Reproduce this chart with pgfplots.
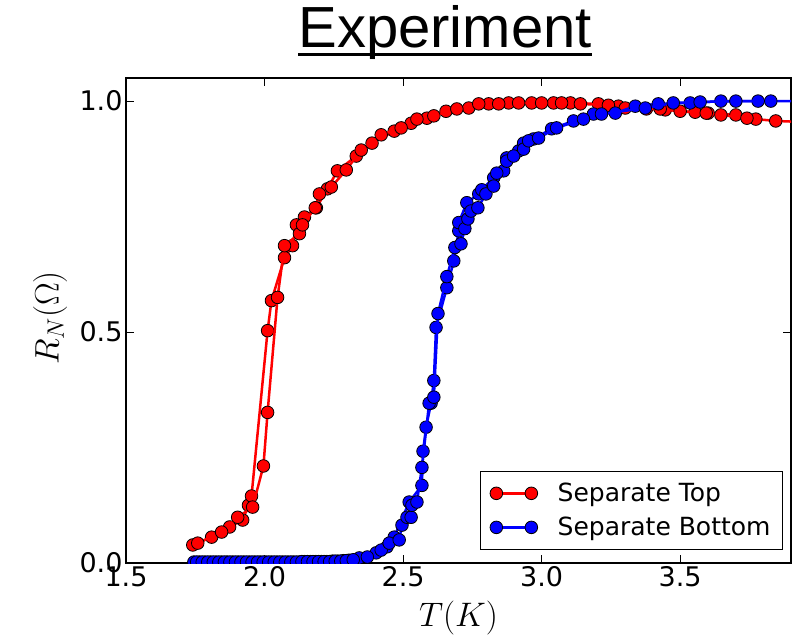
\RequirePackage{fix-cm}
\documentclass[border=0pt]{standalone}
\usepackage{fontspec}
\setmainfont{DejaVu Sans}
\newfontfamily\arialfont{Liberation Sans}
\usepackage{pgfplots}
\pgfplotsset{compat=1.18}

\pgfplotstableread{
x y
1.741 0.039
1.809 0.056
1.874 0.078
1.921 0.093
1.942 0.125
1.953 0.145
2.011 0.503
2.025 0.568
2.072 0.661
2.101 0.687
2.115 0.732
2.144 0.749
2.187 0.769
2.227 0.810
2.263 0.849
2.331 0.881
2.388 0.909
2.468 0.935
2.529 0.952
2.586 0.963
2.655 0.978
2.737 0.985
2.809 0.994
2.881 0.996
2.964 0.996
3.043 0.996
3.104 0.996
3.205 0.994
3.277 0.989
3.378 0.983
3.446 0.981
3.554 0.976
3.601 0.974
3.701 0.970
3.773 0.961
3.845 0.957
3.930 0.955
}\redA

\pgfplotstableread{
x y
1.759 0.043
1.845 0.067
1.903 0.099
1.957 0.121
1.996 0.210
2.011 0.326
2.047 0.575
2.072 0.687
2.126 0.713
2.137 0.732
2.183 0.769
2.198 0.799
2.241 0.814
2.295 0.851
2.349 0.894
2.421 0.927
2.493 0.942
2.550 0.961
2.611 0.968
2.694 0.983
2.773 0.994
2.845 0.994
2.917 0.996
3.000 0.996
3.072 0.996
3.140 0.994
3.241 0.991
3.302 0.985
3.428 0.983
3.500 0.978
3.594 0.974
3.647 0.970
3.741 0.963
}\redB

\pgfplotstableread{
x y
1.745 0.002
1.765 0.002
1.785 0.002
1.805 0.002
1.825 0.002
1.845 0.002
1.865 0.002
1.885 0.002
1.905 0.002
1.925 0.002
1.945 0.002
1.965 0.002
1.985 0.002
2.005 0.002
2.025 0.002
2.045 0.002
2.065 0.002
2.085 0.002
2.105 0.002
2.125 0.002
2.145 0.003
2.165 0.003
2.185 0.003
2.205 0.003
2.225 0.003
2.245 0.004
2.265 0.004
2.285 0.005
2.305 0.006
2.342 0.011
2.403 0.022
2.442 0.035
2.468 0.056
2.522 0.132
2.568 0.168
2.572 0.242
2.583 0.294
2.601 0.346
2.611 0.395
2.619 0.510
2.658 0.596
2.683 0.654
2.701 0.719
2.701 0.737
2.730 0.780
2.773 0.799
2.784 0.808
2.827 0.834
2.863 0.849
2.874 0.877
2.917 0.892
2.935 0.909
2.971 0.918
3.036 0.940
3.115 0.957
3.187 0.972
3.266 0.974
3.338 0.989
3.421 0.994
3.536 0.996
3.647 1.000
3.781 1.000
3.930 1.000
}\blueA

\pgfplotstableread{
x y
1.755 0.002
1.775 0.002
1.795 0.002
1.815 0.002
1.835 0.002
1.855 0.002
1.875 0.002
1.895 0.002
1.915 0.002
1.935 0.002
1.955 0.002
1.975 0.002
1.995 0.002
2.015 0.002
2.035 0.002
2.055 0.002
2.075 0.002
2.095 0.002
2.115 0.002
2.135 0.003
2.155 0.003
2.175 0.003
2.195 0.003
2.215 0.003
2.235 0.003
2.255 0.004
2.275 0.004
2.295 0.005
2.320 0.007
2.371 0.013
2.421 0.028
2.450 0.043
2.486 0.050
2.496 0.082
2.514 0.099
2.529 0.099
2.532 0.125
2.550 0.132
2.568 0.207
2.594 0.346
2.611 0.359
2.626 0.540
2.658 0.620
2.687 0.683
2.709 0.691
2.723 0.724
2.734 0.745
2.745 0.762
2.770 0.769
2.799 0.799
2.827 0.816
2.838 0.844
2.874 0.870
2.899 0.881
2.935 0.896
2.953 0.914
2.989 0.920
3.054 0.942
3.151 0.961
3.216 0.972
3.374 0.985
3.475 0.996
3.572 0.998
3.701 1.000
3.827 1.000
}\blueB

\begin{document}
\begin{tikzpicture}
\begin{axis}[
  at={(0pt,0pt)}, anchor=south west,
  scale only axis, width=665pt, height=485pt,
  xmin=1.5, xmax=3.9, ymin=0, ymax=1.05,
  xtick={1.5,2.0,2.5,3.0,3.5}, ytick={0,0.5,1.0},
  /pgf/number format/assume math mode=true,
  xticklabel style={/pgf/number format/fixed,/pgf/number format/fixed zerofill,/pgf/number format/precision=1},
  yticklabel style={/pgf/number format/fixed,/pgf/number format/fixed zerofill,/pgf/number format/precision=1},
  tick label style={font=\fontsize{27}{30}\selectfont},
  axis line style={line width=1.2pt},
  major tick length=8pt,
  every tick/.style={black, line width=1pt},
  xlabel={$T(K)$}, ylabel={$R_N(\Omega)$},
  label style={font=\fontsize{34}{38}\selectfont},
  xlabel style={at={(axis description cs:0.5,-0.113)}, anchor=center},
  ylabel style={at={(axis description cs:-0.114,0.505)}, anchor=center},
  clip marker paths=true,
  legend style={at={(rel axis cs:0.988,0.027)}, anchor=south east, draw=black, line width=1pt,
    font=\fontsize{25}{28}\selectfont, inner xsep=10pt, inner ysep=10pt, row sep=10pt, column sep=18pt},
  legend cell align=left,
  legend image code/.code={\draw[#1] plot coordinates {(0pt,0pt) (35pt,0pt)};},
]
\addplot[red, line width=2.5pt, mark=*, mark size=6.3pt, mark options={solid, fill=red, draw=black, line width=0.8pt}] table[x=x,y=y] {\redA};
\addlegendentry{Separate Top}
\addplot[red, line width=2.5pt, mark=*, mark size=6.3pt, mark options={solid, fill=red, draw=black, line width=0.8pt}, forget plot] table[x=x,y=y] {\redB};
\addplot[blue, line width=2.5pt, mark=*, mark size=6.3pt, mark options={solid, fill=blue, draw=black, line width=0.8pt}] table[x=x,y=y] {\blueA};
\addlegendentry{Separate Bottom}
\addplot[blue, line width=2.5pt, mark=*, mark size=6.3pt, mark options={solid, fill=blue, draw=black, line width=0.8pt}, forget plot] table[x=x,y=y] {\blueB};
\end{axis}
\node[anchor=base, inner sep=0pt] (t) at (319pt,515pt) {\arialfont\fontsize{58}{62}\selectfont Experiment};
\draw[line width=3pt] ([yshift=-6.5pt]t.base west) -- ([yshift=-6.5pt]t.base east);
\pgfresetboundingbox
\path (-126pt,-79pt) rectangle (666pt,563pt);
\end{tikzpicture}
\end{document}
